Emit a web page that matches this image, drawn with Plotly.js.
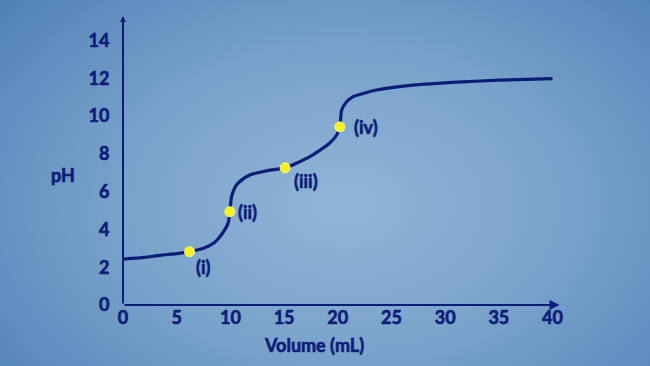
<!DOCTYPE html>
<html>
<head>
<meta charset="utf-8">
<script src="https://cdn.plot.ly/plotly-3.0.1.min.js"></script>
<style>
html,body{margin:0;padding:0;}
body{width:650px;height:366px;overflow:hidden;
background:radial-gradient(ellipse 75% 90% at 53% 56%, #90b5d6 0%, #7aa3cb 45%, #4a7db6 100%);}
#chart{width:650px;height:366px;}
#chart svg text{stroke:#0c1c78;stroke-width:0.6px;}
</style>
</head>
<body>
<div id="chart"></div>
<script>
// Titration curve
const volume = [0, 2, 3.44, 5, 6.2, 7.5, 8.5, 9.0, 9.5, 9.8, 9.95, 10.1, 10.4, 10.8, 11.8, 13.7, 15.1, 17.4, 19.2, 19.9, 20.2, 20.35, 20.8, 21.4, 23.6, 27, 31.6, 35, 40];
const pH     = [2.43, 2.52, 2.63, 2.72, 2.82, 3.0, 3.3, 3.6, 4.0, 4.35, 4.94, 5.7, 6.2, 6.5, 6.88, 7.14, 7.26, 7.85, 8.55, 9.0, 9.43, 10.3, 10.75, 11.02, 11.38, 11.64, 11.81, 11.9, 11.98];
const pointVol = [6.2, 9.95, 15.1, 20.2];
const pointPH  = [2.82, 4.94, 7.26, 9.43];
const pointLabels = ['(i)', '(ii)', '(iii)', '(iv)'];
const xTicks = [0, 5, 10, 15, 20, 25, 30, 35, 40];
const yTicks = [0, 2, 4, 6, 8, 10, 12, 14];

const navy = '#0c1c78';
const font = {family: 'Lato, "Open Sans", sans-serif', size: 18, color: navy, weight: 700};

const labelOffsets = [[14, 15], [18, 0], [21, 13], [26, 0]];

const annotations = [
  // axes with arrowheads
  {x: 40.65, y: 0, ax: 0, ay: 0, xref: 'x', yref: 'y', axref: 'x', ayref: 'y',
   showarrow: true, arrowhead: 2, arrowsize: 1, arrowwidth: 2, arrowcolor: navy, text: ''},
  {x: 0, y: 15.3, ax: 0, ay: 0, xref: 'x', yref: 'y', axref: 'x', ayref: 'y',
   showarrow: true, arrowhead: 2, arrowsize: 0.6, arrowwidth: 2, arrowcolor: navy, text: ''},
  {text: 'pH', x: 63, y: 175, xref: 'paper', yref: 'paper', showarrow: false, font: font,
   xanchor: 'center', yanchor: 'middle'},
  {text: 'Volume (mL)', x: 314, y: 345, xref: 'paper', yref: 'paper', showarrow: false, font: font,
   xanchor: 'center', yanchor: 'middle'}
];
pointLabels.forEach((t, i) => {
  annotations.push({text: t, x: pointVol[i], y: pointPH[i], xref: 'x', yref: 'y',
    xshift: labelOffsets[i][0], yshift: -labelOffsets[i][1], xanchor: 'center', yanchor: 'middle',
    showarrow: false, font: font});
});

const L = 123, T = 15.5, B = 61.3, R = 90.6;
const W = 650, H = 366;
// paper-referenced annotation positions above are given in pixels; convert to paper fractions
annotations.forEach(a => {
  if (a.xref === 'paper') {
    a.x = (a.x - L) / (W - L - R);
    a.y = (H - B - a.y) / (H - T - B);
  }
});

const data = [
  {x: volume, y: pH, mode: 'lines', line: {color: navy, width: 3.2, shape: 'spline', smoothing: 0.6},
   hoverinfo: 'skip', showlegend: false, cliponaxis: false},
  {x: pointVol, y: pointPH, mode: 'markers',
   marker: {color: '#f7f21e', size: 10, line: {color: '#fbf87a', width: 1}},
   showlegend: false, cliponaxis: false}
];

const layout = {
  width: W, height: H,
  margin: {l: L, r: R, t: T, b: B},
  paper_bgcolor: 'rgba(0,0,0,0)', plot_bgcolor: 'rgba(0,0,0,0)',
  showlegend: false,
  xaxis: {range: [0, 40.6], tickvals: xTicks, ticktext: xTicks.map(String), showgrid: false,
    zeroline: false, showline: false, ticks: '', tickfont: font, fixedrange: true},
  yaxis: {range: [0, 15.3], tickvals: yTicks, ticktext: yTicks.map(String), showgrid: false,
    zeroline: false, showline: false, ticks: 'outside', ticklen: 9, tickcolor: 'rgba(0,0,0,0)',
    tickfont: font, fixedrange: true},
  annotations: annotations
};

Plotly.newPlot('chart', data, layout, {displayModeBar: false, staticPlot: true});
</script>
</body>
</html>
